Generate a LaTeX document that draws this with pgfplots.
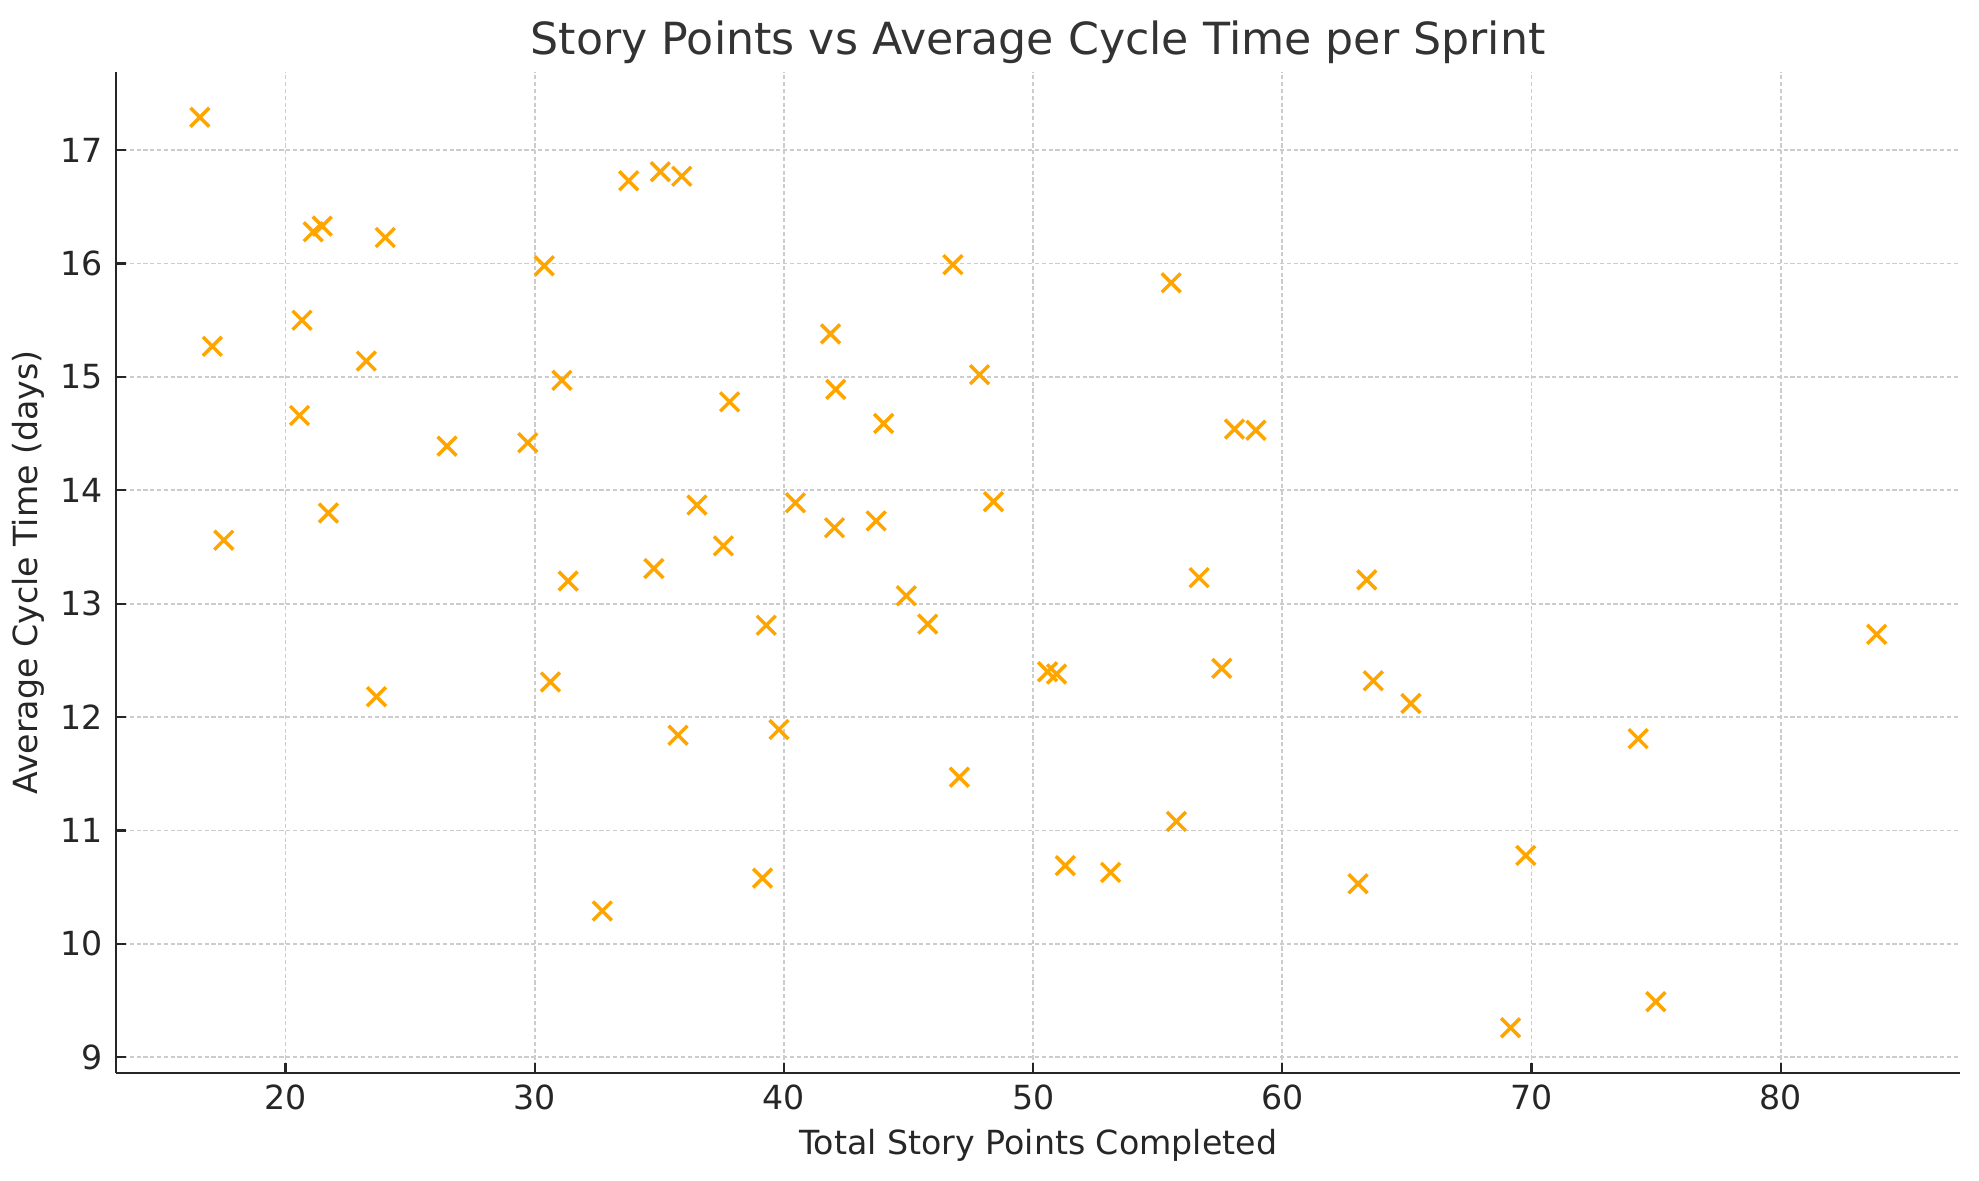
\documentclass[border=0pt]{standalone}
\usepackage{fontspec}
\setmainfont{DejaVu Sans}
\usepackage{pgfplots}
\pgfplotsset{compat=1.18}

\definecolor{mkorange}{HTML}{FFA500}
\definecolor{gridgray}{HTML}{CCCCCC}
\definecolor{txtdark}{HTML}{262626}
\definecolor{titlegray}{HTML}{333333}

\begin{document}
\begin{tikzpicture}
\begin{axis}[
  name=ax,
  scale only axis,
  width=663.8bp, height=360.4bp,
  xmin=13.2, xmax=87.2,
  ymin=8.86, ymax=17.69,
  xtick={20,30,...,80},
  ytick={9,10,...,17},
  axis x line*=bottom,
  axis y line*=left,
  axis line style={txtdark, line width=0.8bp},
  tick align=inside,
  major tick length=3.5bp,
  tick style={txtdark, line width=0.8bp},
  grid=major,
  major grid style={gridgray, line width=0.6bp, dash pattern=on 1.5bp off 0.95bp},
  /pgf/number format/assume math mode=true,
  ticklabel style={font=\fontsize{12}{14}\selectfont, text=txtdark, inner sep=0pt},
  xticklabel style={anchor=north, yshift=-4bp},
  yticklabel style={anchor=east, xshift=-4.7bp},
  title={Story Points vs Average Cycle Time per Sprint},
  every axis title/.style={at={(rel axis cs:0.5,1)}, anchor=base, yshift=6.1bp, inner sep=0pt,
    font=\fontsize{16}{19}\selectfont, text=titlegray},
  xlabel={Total Story Points Completed},
  xlabel style={at={([yshift=-29.2bp]rel axis cs:0.5,0)}, anchor=base, inner sep=0pt,
    font=\fontsize{12}{14}\selectfont, text=txtdark},
  ylabel={Average Cycle Time (days)},
  ylabel style={at={([xshift=-28.4bp]rel axis cs:0,0.5)}, anchor=base, inner sep=0pt,
    font=\fontsize{12}{14}\selectfont, text=txtdark},
]
% story points vs cycle time, one point per sprint
\addplot[only marks, mark=x, mark size=4.8bp, mkorange, line width=1.25bp] coordinates {
  (16.56,17.29) (17.06,15.27) (17.52,13.56) (20.66,15.50) (20.56,14.66)
  (21.11,16.28) (21.47,16.33) (21.72,13.80) (23.24,15.14) (23.65,12.18)
  (24.00,16.23) (26.48,14.39) (29.72,14.42) (30.38,15.98) (30.63,12.31)
  (31.09,14.97) (31.34,13.20) (32.71,10.29) (33.77,16.73) (34.78,13.31)
  (35.04,16.81) (35.90,16.77) (35.75,11.84) (36.51,13.87) (37.57,13.51)
  (37.82,14.78) (39.14,10.58) (39.29,12.81) (39.80,11.89) (40.46,13.89)
  (41.87,15.38) (42.03,13.67) (42.08,14.89) (43.70,13.73) (44.00,14.59)
  (44.91,13.07) (45.77,12.82) (46.78,15.99) (47.04,11.47) (47.85,15.02)
  (48.41,13.90) (50.58,12.40) (50.94,12.38) (51.29,10.69) (53.11,10.63)
  (55.54,15.83) (55.75,11.08) (56.66,13.23) (57.57,12.43) (58.08,14.54)
  (58.94,14.53) (63.04,10.53) (63.39,13.21) (63.65,12.32) (65.16,12.12)
  (69.16,9.26)  (69.77,10.78) (74.28,11.81) (74.99,9.49)  (83.85,12.73)
};
\end{axis}
\pgfresetboundingbox
\path[use as bounding box] ([shift={(-41.8bp,-38.5bp)}]ax.south west)
  rectangle ([shift={(6.8bp,25.9bp)}]ax.north east);
\end{tikzpicture}
\end{document}
